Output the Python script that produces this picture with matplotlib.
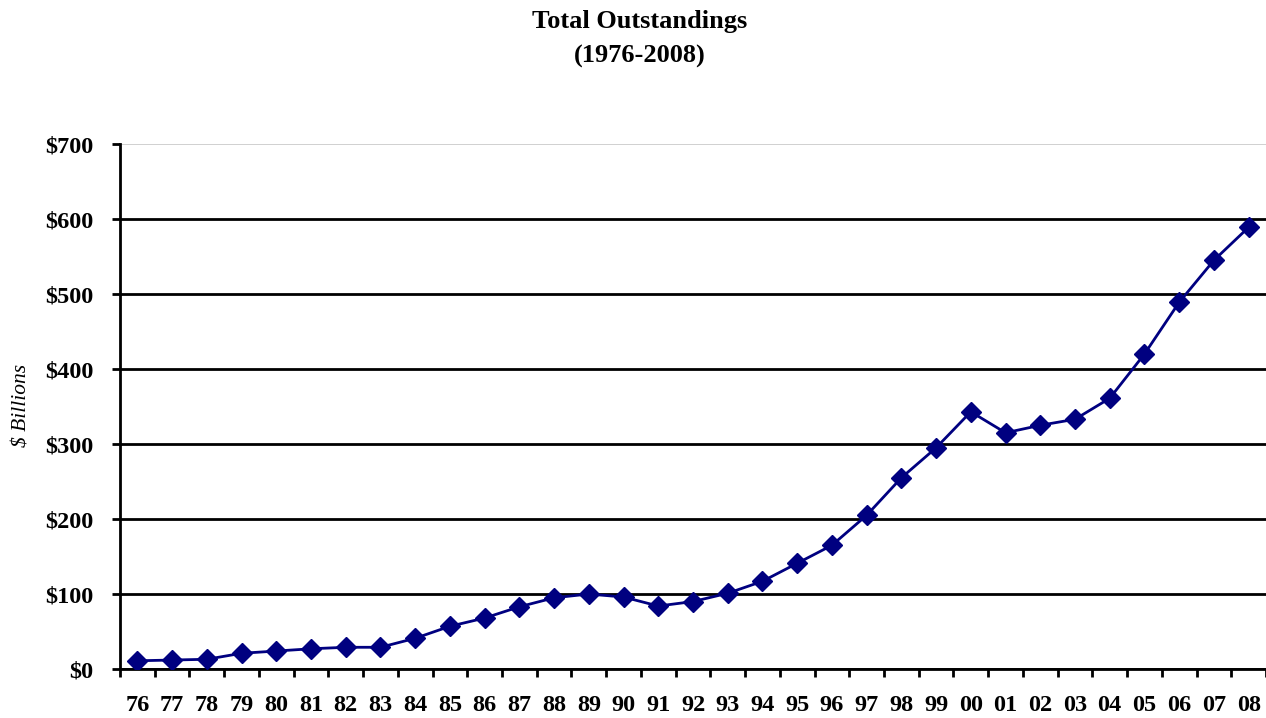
import matplotlib.pyplot as plt

years = ['76', '77', '78', '79', '80', '81', '82', '83', '84', '85', '86',
         '87', '88', '89', '90', '91', '92', '93', '94', '95', '96', '97',
         '98', '99', '00', '01', '02', '03', '04', '05', '06', '07', '08']
outstandings = [11, 12, 13, 21, 24, 27, 29, 29, 41, 57, 68,
                83, 95, 100, 96, 84, 90, 101, 117, 141, 165, 205,
                255, 295, 343, 315, 325, 333, 361, 420, 489, 545, 589]
y_ticks = [0, 100, 200, 300, 400, 500, 600, 700]

plt.rcParams['font.family'] = ['Liberation Serif', 'DejaVu Serif']

fig = plt.figure(figsize=(12.66, 7.18), dpi=100)
ax = fig.add_axes([0.0948, 0.0682, 0.9052, 0.7312])

x = list(range(len(years)))
ax.plot(x, outstandings, color='#000080', lw=2, marker='D', markersize=10,
        markeredgecolor='#000080', zorder=3)

ax.set_xlim(-0.5, len(years) - 0.5)
ax.set_ylim(0, 700)
ax.set_yticks(y_ticks)
ax.set_yticklabels([f'${v}' for v in y_ticks], fontsize=17.5, fontweight='bold')

ax.set_xticks(x)
ax.set_xticklabels(years, fontsize=17.5, fontweight='bold')
ax.tick_params(axis='x', which='major', length=0, pad=19)
ax.set_xticks([i - 0.5 for i in x] + [len(years) - 0.5], minor=True)
ax.tick_params(axis='x', which='minor', length=6, width=2, direction='out')
ax.tick_params(axis='y', length=6, width=2, direction='out', pad=13)

ax.grid(axis='y', color='black', lw=2)
ax.get_ygridlines()[-1].set_color('#c8c8c8')
ax.get_ygridlines()[-1].set_linewidth(1.2)
ax.set_axisbelow(True)

for s in ['top', 'right']:
    ax.spines[s].set_visible(False)
ax.spines['left'].set_linewidth(2)
ax.spines['bottom'].set_linewidth(2)

fig.text(22 / 1266, 1 - 405 / 718, '$ Billions', rotation=90, ha='center',
         va='center', fontsize=15.5, fontstyle='italic')

fig.text(0.505, 0.970, 'Total Outstandings', ha='center', va='center',
         fontsize=19, fontweight='bold')
fig.text(0.505, 0.922, '(1976-2008)', ha='center', va='center',
         fontsize=19, fontweight='bold')

fig.savefig('out.png', dpi=100)
